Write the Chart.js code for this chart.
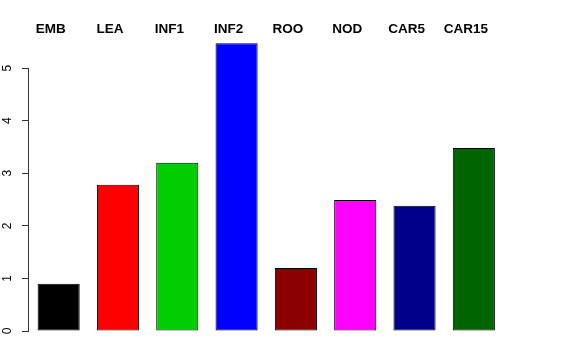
<!DOCTYPE html>
<html>
<head>
<meta charset="utf-8">
<script src="https://cdn.jsdelivr.net/npm/chart.js@4/dist/chart.umd.min.js"></script>
<style>
  html, body { margin: 0; padding: 0; background: #ffffff; }
  #wrap { width: 576px; height: 360px; }
</style>
</head>
<body>
<div id="wrap"><canvas id="c" width="576" height="360"></canvas></div>
<script>
const categories = ["EMB", "LEA", "INF1", "INF2", "ROO", "NOD", "CAR5", "CAR15"];
const values = [0.9, 2.78, 3.2, 5.47, 1.2, 2.49, 2.38, 3.48];
const barColors = ["#000000", "#FF0000", "#00CD00", "#0000FF", "#8B0000", "#FF00FF", "#00008B", "#006400"];
const yTicks = [0, 1, 2, 3, 4, 5];

const axisLinePlugin = {
  id: 'axisLine',
  afterDraw(chart) {
    const y = chart.scales.y;
    const ctx = chart.ctx;
    const x = chart.chartArea.left - 0.5;
    ctx.save();
    ctx.strokeStyle = '#333333';
    ctx.lineWidth = 1;
    ctx.beginPath();
    ctx.moveTo(x, Math.round(y.getPixelForValue(yTicks[0])) + 0.5);
    ctx.lineTo(x, Math.round(y.getPixelForValue(yTicks[yTicks.length - 1])) + 0.5);
    ctx.stroke();
    ctx.restore();
  }
};

new Chart(document.getElementById('c'), {
  type: 'bar',
  data: {
    labels: categories,
    datasets: [{
      data: values,
      backgroundColor: barColors,
      borderColor: '#000000',
      borderWidth: 1,
      borderSkipped: false,
      categoryPercentage: 1.0,
      barPercentage: 0.71
    }]
  },
  options: {
    responsive: false,
    animation: false,
    layout: { padding: { left: 0, right: 72.5, top: 0, bottom: 29 } },
    plugins: { legend: { display: false }, tooltip: { enabled: false } },
    scales: {
      x: {
        position: 'top',
        grid: { display: false, drawTicks: false },
        border: { display: false },
        ticks: {
          color: '#000000',
          font: { family: 'Liberation Sans', size: 13.5, weight: 'bold', lineHeight: 1 },
          padding: 0,
          labelOffset: -8,
          maxRotation: 0,
          minRotation: 0,
          autoSkip: false
        },
        afterFit(scale) { scale.height = 36; }
      },
      y: {
        min: 0,
        max: 5.61,
        grid: { display: true, drawOnChartArea: false, drawTicks: true, tickLength: 7, color: '#333333', lineWidth: 1 },
        border: { display: false },
        afterBuildTicks(scale) { scale.ticks = yTicks.map(v => ({ value: v })); },
        ticks: {
          color: '#000000',
          font: { family: 'Liberation Sans', size: 12 },
          minRotation: 90,
          maxRotation: 90,
          crossAlign: 'center',
          padding: 10.5
        },
        afterFit(scale) { scale.width = 29; }
      }
    }
  },
  plugins: [axisLinePlugin]
});
</script>
</body>
</html>
